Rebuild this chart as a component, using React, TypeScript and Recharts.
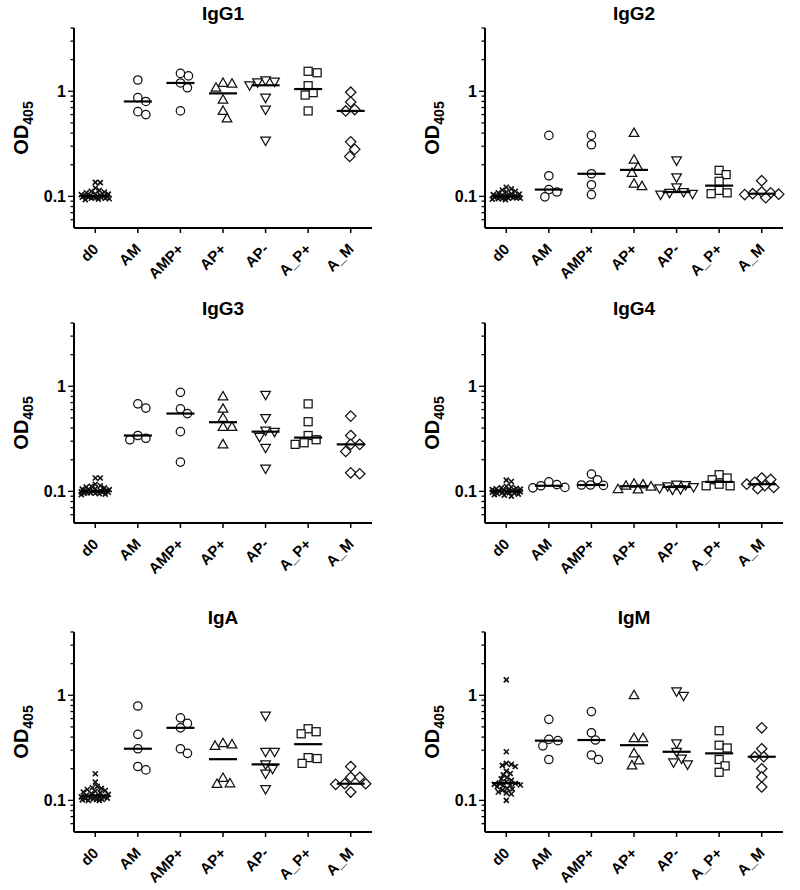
import React from 'react';
import { ScatterChart, Scatter, XAxis, YAxis } from 'recharts';

const GROUPS = ['d0', 'AM', 'AMP+', 'AP+', 'AP-', 'A_P+', 'A_M'];
const MARKERS = ['cross', 'circle', 'circle', 'triangle', 'triangleDown', 'square', 'diamond'];

const Y_TICKS = [0.06, 0.07, 0.08, 0.09, 0.1, 0.2, 0.3, 0.4, 0.5, 0.6, 0.7, 0.8, 0.9, 1, 2, 3, 4];
const Y_LABELED = [0.1, 1];

// IgG1
const IGG1_D0 = [0.135, 0.136, 0.12, 0.114, 0.112, 0.11, 0.108, 0.106, 0.105, 0.104, 0.103, 0.102, 0.101, 0.1, 0.1, 0.099, 0.099, 0.098, 0.098, 0.097, 0.097, 0.096, 0.096, 0.095, 0.094, 0.093];
const IGG1_AM = [1.28, 0.87, 0.8, 0.64, 0.6];
const IGG1_AMP = [1.48, 1.4, 1.2, 1.08, 0.65];
const IGG1_APP = [1.2, 1.18, 1.08, 0.83, 0.65, 0.55];
const IGG1_APM = [1.27, 1.24, 1.22, 1.14, 0.87, 0.67, 0.34];
const IGG1_A_PP = [1.55, 1.5, 1.13, 0.97, 0.92, 0.65];
const IGG1_A_M = [0.98, 0.79, 0.67, 0.65, 0.33, 0.28, 0.24];

// IgG2
const IGG2_D0 = [0.122, 0.118, 0.115, 0.112, 0.11, 0.108, 0.106, 0.105, 0.104, 0.103, 0.102, 0.101, 0.1, 0.1, 0.099, 0.099, 0.098, 0.098, 0.097, 0.097, 0.096, 0.096, 0.095, 0.095, 0.094, 0.093];
const IGG2_AM = [0.38, 0.157, 0.116, 0.11, 0.099];
const IGG2_AMP = [0.38, 0.31, 0.164, 0.129, 0.104];
const IGG2_APP = [0.4, 0.223, 0.19, 0.167, 0.132, 0.125];
const IGG2_APM = [0.22, 0.152, 0.122, 0.11, 0.108, 0.106, 0.104];
const IGG2_A_PP = [0.177, 0.161, 0.139, 0.114, 0.108, 0.106];
const IGG2_A_M = [0.141, 0.11, 0.108, 0.106, 0.105, 0.104, 0.097];

// IgG3
const IGG3_D0 = [0.134, 0.134, 0.117, 0.113, 0.112, 0.11, 0.108, 0.106, 0.105, 0.104, 0.103, 0.102, 0.101, 0.1, 0.1, 0.099, 0.099, 0.098, 0.098, 0.097, 0.097, 0.096, 0.096, 0.095, 0.094, 0.093];
const IGG3_AM = [0.68, 0.62, 0.34, 0.32, 0.31];
const IGG3_AMP = [0.875, 0.61, 0.55, 0.37, 0.19];
const IGG3_APP = [0.8, 0.61, 0.5, 0.41, 0.41, 0.28];
const IGG3_APM = [0.83, 0.5, 0.38, 0.37, 0.33, 0.26, 0.165];
const IGG3_A_PP = [0.68, 0.46, 0.34, 0.31, 0.29, 0.28];
const IGG3_A_M = [0.52, 0.34, 0.28, 0.28, 0.24, 0.15, 0.147];

// IgG4
const IGG4_D0 = [0.128, 0.124, 0.112, 0.11, 0.108, 0.107, 0.106, 0.105, 0.104, 0.103, 0.102, 0.101, 0.1, 0.1, 0.099, 0.099, 0.098, 0.098, 0.097, 0.097, 0.096, 0.095, 0.094, 0.093, 0.092, 0.09];
const IGG4_AM = [0.123, 0.116, 0.113, 0.109, 0.108];
const IGG4_AMP = [0.146, 0.129, 0.115, 0.115, 0.114];
const IGG4_APP = [0.118, 0.116, 0.113, 0.111, 0.105, 0.104];
const IGG4_APM = [0.116, 0.115, 0.112, 0.11, 0.107, 0.105, 0.104];
const IGG4_A_PP = [0.144, 0.134, 0.129, 0.117, 0.113, 0.113];
const IGG4_A_M = [0.134, 0.13, 0.122, 0.117, 0.113, 0.109, 0.106];

// IgA
const IGA_D0 = [0.179, 0.149, 0.136, 0.132, 0.13, 0.127, 0.124, 0.122, 0.12, 0.118, 0.116, 0.114, 0.112, 0.11, 0.109, 0.108, 0.107, 0.106, 0.105, 0.104, 0.103, 0.102, 0.102, 0.101, 0.1, 0.1];
const IGA_AM = [0.79, 0.425, 0.31, 0.21, 0.195];
const IGA_AMP = [0.61, 0.54, 0.49, 0.31, 0.28];
const IGA_APP = [0.35, 0.34, 0.33, 0.163, 0.145, 0.143];
const IGA_APM = [0.64, 0.29, 0.29, 0.22, 0.2, 0.18, 0.128];
const IGA_A_PP = [0.48, 0.45, 0.43, 0.255, 0.25, 0.225];
const IGA_A_M = [0.21, 0.166, 0.166, 0.144, 0.144, 0.142, 0.12];

// IgM
const IGM_D0 = [1.4, 0.29, 0.225, 0.22, 0.215, 0.21, 0.19, 0.18, 0.175, 0.165, 0.16, 0.155, 0.15, 0.146, 0.145, 0.142, 0.14, 0.14, 0.138, 0.135, 0.13, 0.128, 0.125, 0.12, 0.118, 0.115, 0.1];
const IGM_AM = [0.59, 0.38, 0.37, 0.33, 0.245];
const IGM_AMP = [0.7, 0.44, 0.375, 0.27, 0.245];
const IGM_APP = [1.0, 0.39, 0.39, 0.28, 0.24, 0.215];
const IGM_APM = [1.09, 0.99, 0.35, 0.29, 0.25, 0.23, 0.22];
const IGM_A_PP = [0.46, 0.335, 0.315, 0.245, 0.213, 0.185];
const IGM_A_M = [0.49, 0.31, 0.26, 0.26, 0.2, 0.167, 0.134];

const PANELS = [
  { title: 'IgG1', groups: [IGG1_D0, IGG1_AM, IGG1_AMP, IGG1_APP, IGG1_APM, IGG1_A_PP, IGG1_A_M] },
  { title: 'IgG2', groups: [IGG2_D0, IGG2_AM, IGG2_AMP, IGG2_APP, IGG2_APM, IGG2_A_PP, IGG2_A_M] },
  { title: 'IgG3', groups: [IGG3_D0, IGG3_AM, IGG3_AMP, IGG3_APP, IGG3_APM, IGG3_A_PP, IGG3_A_M] },
  { title: 'IgG4', groups: [IGG4_D0, IGG4_AM, IGG4_AMP, IGG4_APP, IGG4_APM, IGG4_A_PP, IGG4_A_M] },
  { title: 'IgA', groups: [IGA_D0, IGA_AM, IGA_AMP, IGA_APP, IGA_APM, IGA_A_PP, IGA_A_M] },
  { title: 'IgM', groups: [IGM_D0, IGM_AM, IGM_AMP, IGM_APP, IGM_APM, IGM_A_PP, IGM_A_M] },
];

const FONT = '"Liberation Sans", Arial, Helvetica, sans-serif';
const Y_MIN = 0.05;
const Y_MAX = 4;
const PLOT_W = 298;
const PLOT_H = 200;
const CHART_W = 400;
const CHART_H = 288;
const TOP_MARGIN = 28;
const X_AXIS_H = CHART_H - TOP_MARGIN - PLOT_H;
const ROW_TOPS = [0, 295, 604];
const DECADE_PX = PLOT_H / Math.log10(Y_MAX / Y_MIN);
const UNIT_PX = PLOT_W / GROUPS.length;

const median = (vals: number[]) => {
  const s = [...vals].sort((a, b) => a - b);
  const m = Math.floor(s.length / 2);
  return s.length % 2 ? s[m] : (s[m - 1] + s[m]) / 2;
};

// simple beeswarm: spread overlapping points sideways
const swarm = (vals: number[], size: number, maxOff: number) => {
  const placed: { x: number; y: number }[] = [];
  const offsets = new Array(vals.length).fill(0);
  const order = vals.map((_, i) => i).sort((a, b) => vals[b] - vals[a]);
  for (const i of order) {
    const y = -Math.log10(vals[i]) * DECADE_PX;
    let best = 0;
    let bestD = -1;
    for (let k = 0; k <= maxOff * 2; k++) {
      const off = k === 0 ? 0 : k % 2 ? Math.ceil(k / 2) : -k / 2;
      let minD = Infinity;
      for (const p of placed) minD = Math.min(minD, Math.hypot(p.x - off, p.y - y));
      if (minD >= size) {
        best = off;
        bestD = minD;
        break;
      }
      if (minD > bestD) {
        bestD = minD;
        best = off;
      }
    }
    placed.push({ x: best, y });
    offsets[i] = best;
  }
  return offsets;
};

const makeShape = (kind: string) => (props: any) => {
  const { cx, cy } = props;
  const st = { fill: '#fff', stroke: '#111', strokeWidth: 1.25 };
  if (kind === 'cross') {
    const r = 2.5;
    return (
      <g stroke="#111" strokeWidth={1.6}>
        <line x1={cx - r} y1={cy - r} x2={cx + r} y2={cy + r} />
        <line x1={cx - r} y1={cy + r} x2={cx + r} y2={cy - r} />
      </g>
    );
  }
  if (kind === 'circle') return <circle cx={cx} cy={cy} r={4.2} {...st} />;
  if (kind === 'triangle')
    return <polygon points={`${cx},${cy - 5} ${cx - 4.8},${cy + 3.4} ${cx + 4.8},${cy + 3.4}`} {...st} />;
  if (kind === 'triangleDown')
    return <polygon points={`${cx},${cy + 5} ${cx - 4.8},${cy - 3.4} ${cx + 4.8},${cy - 3.4}`} {...st} />;
  if (kind === 'square') return <rect x={cx - 4} y={cy - 4} width={8} height={8} {...st} />;
  return <polygon points={`${cx},${cy - 5.2} ${cx + 5.2},${cy} ${cx},${cy + 5.2} ${cx - 5.2},${cy}`} {...st} />;
};

const MedianShape = (props: any) => {
  const { cx, cy } = props;
  return <line x1={cx - 14} x2={cx + 14} y1={cy} y2={cy} stroke="#000" strokeWidth={2.2} />;
};

const YTick = (props: any) => {
  const { x, y, payload } = props;
  const v = payload.value;
  const major = Y_LABELED.includes(v);
  return (
    <g>
      <line x1={x - (major ? 6 : 3.5)} x2={x} y1={y} y2={y} stroke="#000" strokeWidth={1.3} />
      {major && (
        <text x={x - 8} y={y} dy="0.35em" textAnchor="end" fontSize={16} fontWeight="bold" fontFamily={FONT} fill="#000">
          {String(v)}
        </text>
      )}
    </g>
  );
};

const XTick = (props: any) => {
  const { x, y, payload } = props;
  const tx = x + 4;
  const ty = y + 22;
  return (
    <g>
      <line x1={x} x2={x} y1={y} y2={y + 5} stroke="#000" strokeWidth={1.5} />
      <text x={tx} y={ty} transform={`rotate(-45, ${tx}, ${ty})`} textAnchor="end" fontSize={15} fontWeight="bold" fontFamily={FONT} fill="#000">
        {GROUPS[payload.value]}
      </text>
    </g>
  );
};

const YLabel = (props: any) => {
  const vb = props.viewBox || {};
  const cx = vb.x + vb.width - 53;
  const cy = vb.y + vb.height / 2;
  return (
    <text x={cx} y={cy} transform={`rotate(-90, ${cx}, ${cy})`} textAnchor="middle" dy="0.35em" fontWeight="bold" fontSize={20} fontFamily={FONT} fill="#000">
      OD<tspan fontSize={14} dy={5}>405</tspan>
    </text>
  );
};

const Panel = ({ panel, index }: { panel: (typeof PANELS)[number]; index: number }) => {
  const col = index % 2;
  const row = Math.floor(index / 2);
  const yAxisW = col === 0 ? 74 : 85;
  const left = col * 400;
  const top = ROW_TOPS[row];
  const rightMargin = CHART_W - yAxisW - PLOT_W;
  const medians = panel.groups.map((g, gi) => ({ x: gi, y: median(g) }));

  return (
    <div style={{ position: 'absolute', left, top, width: CHART_W, height: CHART_H }}>
      <div
        style={{
          position: 'absolute',
          left: yAxisW,
          width: PLOT_W,
          top: TOP_MARGIN - 25,
          lineHeight: '22px',
          textAlign: 'center',
          fontFamily: FONT,
          fontWeight: 'bold',
          fontSize: 19,
        }}
      >
        {panel.title}
      </div>
      <ScatterChart width={CHART_W} height={CHART_H} margin={{ top: TOP_MARGIN, right: rightMargin, bottom: 0, left: 0 }}>
        <XAxis
          type="number"
          dataKey="x"
          domain={[-0.5, GROUPS.length - 0.5]}
          ticks={GROUPS.map((_, i) => i)}
          interval={0}
          height={X_AXIS_H}
          tickSize={0}
          tickMargin={0}
          tickLine={false}
          axisLine={{ stroke: '#000', strokeWidth: 2 }}
          tick={<XTick />}
        />
        <YAxis
          type="number"
          dataKey="y"
          scale="log"
          domain={[Y_MIN, Y_MAX]}
          allowDataOverflow
          ticks={Y_TICKS}
          interval={0}
          width={yAxisW}
          tickSize={0}
          tickMargin={0}
          tickLine={false}
          axisLine={{ stroke: '#000', strokeWidth: 2 }}
          tick={<YTick />}
          label={{ content: (p: any) => <YLabel {...p} /> }}
        />
        {panel.groups.map((vals, gi) => {
          const isCross = MARKERS[gi] === 'cross';
          const offs = swarm(vals, isCross ? 4.4 : 8.2, isCross ? 14 : 17);
          const data = vals.map((v, i) => ({ x: gi + offs[i] / UNIT_PX, y: v }));
          return (
            <Scatter key={GROUPS[gi]} data={data} shape={makeShape(MARKERS[gi])} isAnimationActive={false} />
          );
        })}
        <Scatter data={medians} shape={<MedianShape />} isAnimationActive={false} />
      </ScatterChart>
    </div>
  );
}

export default function App() {
  return (
    <div style={{ position: 'absolute', left: 0, top: 0, width: 800, height: 890, background: '#fff', overflow: 'hidden' }}>
      {PANELS.map((p, i) => (
        <Panel key={p.title} panel={p} index={i} />
      ))}
    </div>
  );
}
